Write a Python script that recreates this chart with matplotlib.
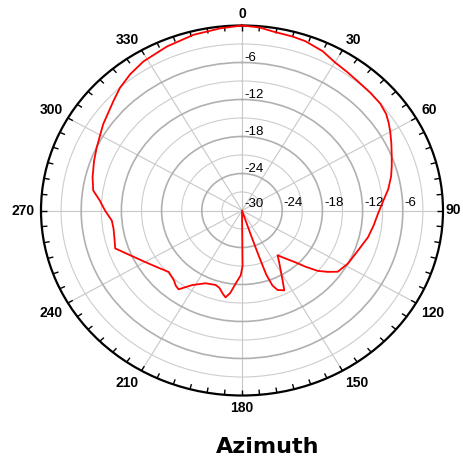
import numpy as np
import matplotlib
matplotlib.use('Agg')
from matplotlib import pyplot as plt

# azimuth pattern (degrees, dB)
azimuth_deg = [0, 5, 9, 15, 19, 25, 30, 35, 40, 45, 50, 54, 57, 60, 64, 68, 72, 76, 81, 86,
               91.5, 97, 103, 110.4, 118.6, 124.8, 127.9, 130.9, 133.8, 136.9, 140, 143.8,
               146.4, 151.8, 154, 157.6, 159.5, 160.8, 161.2, 161.6, 162, 179.5, 179.5,
               181, 184.6, 187.5, 189.9, 192, 195, 198, 204.8, 211.6, 216.5, 219, 222, 227.7,
               233, 240, 246.5, 252, 256, 261.3, 265.2, 270, 274.4, 278.3, 283.5, 290, 295.2,
               304, 312.7, 317.5, 323, 328.7, 337.2, 345.8, 353.8, 360]
gain_db = [0.0, -0.2, -0.6, -0.8, -0.96, -1.5, -2.26, -2.6, -2.86, -2.95, -3.05, -3.4, -3.9,
           -4.45, -5.2, -5.9, -6.5, -7.06, -7.9, -8.9,
           -9.7, -10.2, -10.7, -11.5, -12.0, -12.6, -13.8, -15.05, -16.8, -18.6, -19.8, -21.0,
           -20.0, -17.2, -15.6, -16.05, -17.0, -19.0, -22.0, -26.0, -30.0, -30.0, -21.0,
           -19.5, -18.1, -16.5, -15.7, -16.2, -17.0, -17.3, -17.0, -15.8, -14.1, -14.3, -14.8,
           -15.2, -14.5, -13.3, -11.8, -10.1, -10.4, -10.6, -10.5, -9.55, -8.7, -7.56, -7.06,
           -6.5, -6.03, -5.0, -3.87, -3.03, -2.3, -1.7, -1.14, -0.6, -0.28, 0.0]

theta_ticks = np.arange(0, 360, 30)
theta_labels = [str(t) for t in theta_ticks]
ring_major = [-24, -18, -12, -6]
ring_minor = [-27, -21, -15, -9, -3]

fig = plt.figure(figsize=(4.63, 4.59), dpi=100)
ax = fig.add_axes([41 / 463, 63.5 / 459, 402 / 463, 370 / 459], projection='polar')
ax.set_aspect('auto')
ax.set_theta_zero_location('N')
ax.set_theta_direction(-1)
ax.set_ylim(-30, 0)

ax.set_xticks(np.deg2rad(theta_ticks))
ax.set_xticklabels([])
ax.tick_params(axis='x', which='both', length=0)
ax.xaxis.grid(True, which='major', color='#c8c8c8', lw=0.8)

ax.set_yticks(ring_major)
ax.set_yticks(ring_minor, minor=True)
ax.set_yticklabels([])
ax.tick_params(axis='y', which='both', length=0)
ax.yaxis.grid(True, which='major', color='#b0b0b0', lw=1.2)
ax.yaxis.grid(True, which='minor', color='#cdcdcd', lw=0.8)
ax.spines['polar'].set_linewidth(1.6)
ax.spines['polar'].set_color('black')

# inward tick marks every 5 degrees
for a in np.deg2rad(np.arange(0, 360, 5)):
    ax.plot([a, a], [0, -0.85], color='black', lw=1, solid_capstyle='butt', zorder=4)

# angle labels just outside the rim
for t, lab in zip(theta_ticks, theta_labels):
    s, c = np.sin(np.deg2rad(t)), np.cos(np.deg2rad(t))
    ha = 'center' if abs(s) < 1e-6 else ('left' if s > 0 else 'right')
    va = 'center' if abs(c) < 1e-6 else ('baseline' if c > 0 else 'top')
    gap = 3 if t == 90 else 6
    ax.annotate(lab, xy=(np.deg2rad(t), 0), xytext=(gap * s, gap * c + (1 if c > 1e-6 else 0)),
                textcoords='offset pixels', ha=ha, va=va, fontsize=10, fontweight='bold',
                fontfamily='Liberation Sans', annotation_clip=False)

ax.plot(np.deg2rad(azimuth_deg), gain_db, color='red', lw=1.3, zorder=5, clip_on=False)

# radial labels along 0 and 90 degrees
lab_kw = dict(textcoords='offset pixels', ha='left', va='baseline', fontsize=9.5,
              fontfamily='Liberation Sans', color='black')
for v in ring_major:
    ax.annotate(str(v), xy=(0, v), xytext=(2, 1.5), **lab_kw)
    ax.annotate(str(v), xy=(np.pi / 2, v), xytext=(1.5, 4), **lab_kw)
ax.annotate('-30', xy=(0, -30), xytext=(2.5, 3.5), **lab_kw)

fig.text(267.5 / 463, 0.014, 'Azimuth', ha='center', va='baseline',
         fontsize=16, fontweight='bold', fontfamily='DejaVu Sans')

fig.savefig('out.png', dpi=100)
